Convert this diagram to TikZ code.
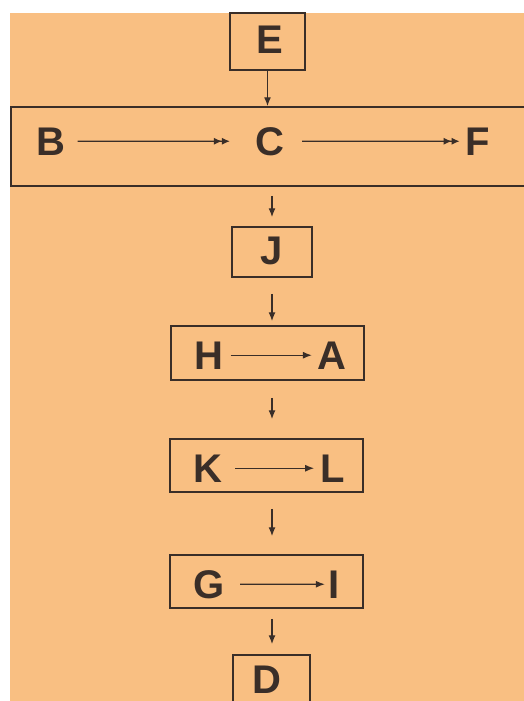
\documentclass[tikz,border=0pt]{standalone}
\usepackage{fontspec}
\setmainfont{Liberation Sans}
\usepackage{tikz}
\usetikzlibrary{positioning,arrows.meta,calc}
\usepackage{xcolor}
\definecolor{paper}{RGB}{249,191,130}
\definecolor{ink}{RGB}{58,46,40}

\begin{document}
\begin{tikzpicture}[
  x=1pt, y=-1pt, >=Latex, line width=1.2pt, color=ink,
  frame/.style={draw=ink, line width=1.5pt, inner sep=0pt},
  lab/.style={font=\fontsize{40}{48}\selectfont\bfseries, text=ink, inner sep=0pt, anchor=base},
  flow/.style={draw=ink, line width=1.3pt, -{Latex[length=9pt,width=7pt]}},
  dflow/.style={draw=ink, line width=1.3pt, -{Latex[length=8pt,width=7pt]Latex[length=8pt,width=7pt]}},
]
\clip (0,0) rectangle (524,701);
\fill[white] (0,0) rectangle (524,701);
\fill[paper] (10,13) rectangle (524,701);

% frames
\node[frame, minimum width=75pt, minimum height=57pt] (fE) at (267.5,41.5) {};
\node[frame, minimum width=534pt, minimum height=79pt] (fBCF) at (278,146.5) {};
\node[frame, minimum width=80pt, minimum height=50pt] (fJ) at (272,252) {};
\node[frame, minimum width=193pt, minimum height=54pt] (fHA) at (267.5,353) {};
\node[frame, minimum width=193pt, minimum height=53pt] (fKL) at (266.5,465.5) {};
\node[frame, minimum width=193pt, minimum height=53pt] (fGI) at (266.5,581.5) {};
\node[frame, minimum width=77pt, minimum height=70pt] (fD) at (271.5,690) {};

% letters
\node[lab] (E) at (269.5,53) {E};
\node[lab] (B) at (50.5,155) {B};
\node[lab] (C) at (270,155) {C};
\node[lab] (F) at (477.5,155) {F};
\node[lab] (J) at (272,264) {J};
\node[lab] (H) at (208.5,369) {H};
\node[lab] (A) at (332,369) {A};
\node[lab] (K) at (208,482) {K};
\node[lab] (L) at (333,482) {L};
\node[lab] (G) at (209,598) {G};
\node[lab] (I) at (334,598) {I};
\node[lab] (D) at (267,693) {D};

% inner arrows
\draw[dflow, shorten <=12pt, shorten >=25pt] (B.east) -- (C.west);
\draw[dflow, shorten <=17pt, shorten >=5pt] (C.east) -- (F.west);
\draw[flow, shorten <=7pt, shorten >=5pt] (H.east) -- (A.west);
\draw[flow, shorten <=12pt, shorten >=6pt] (K.east) -- (L.west);
\draw[flow, shorten <=15pt, shorten >=3pt] (G.east) -- (I.west);

% chain
\draw[flow] (fE.south) -- (fE.south |- fBCF.north);
\draw[flow, shorten <=9pt, shorten >=9pt] (fJ.north |- fBCF.south) -- (fJ.north);
\draw[flow, shorten <=16pt, shorten >=4pt] (fJ.south) -- (fJ.south |- fHA.north);
\draw[flow, shorten <=17pt, shorten >=19pt] (fJ |- fHA.south) -- (fJ |- fKL.north);
\draw[flow, shorten <=16pt, shorten >=18pt] (fJ |- fKL.south) -- (fJ |- fGI.north);
\draw[flow, shorten <=10pt, shorten >=10pt] (fJ |- fGI.south) -- (fJ |- fD.north);
\end{tikzpicture}
\end{document}
